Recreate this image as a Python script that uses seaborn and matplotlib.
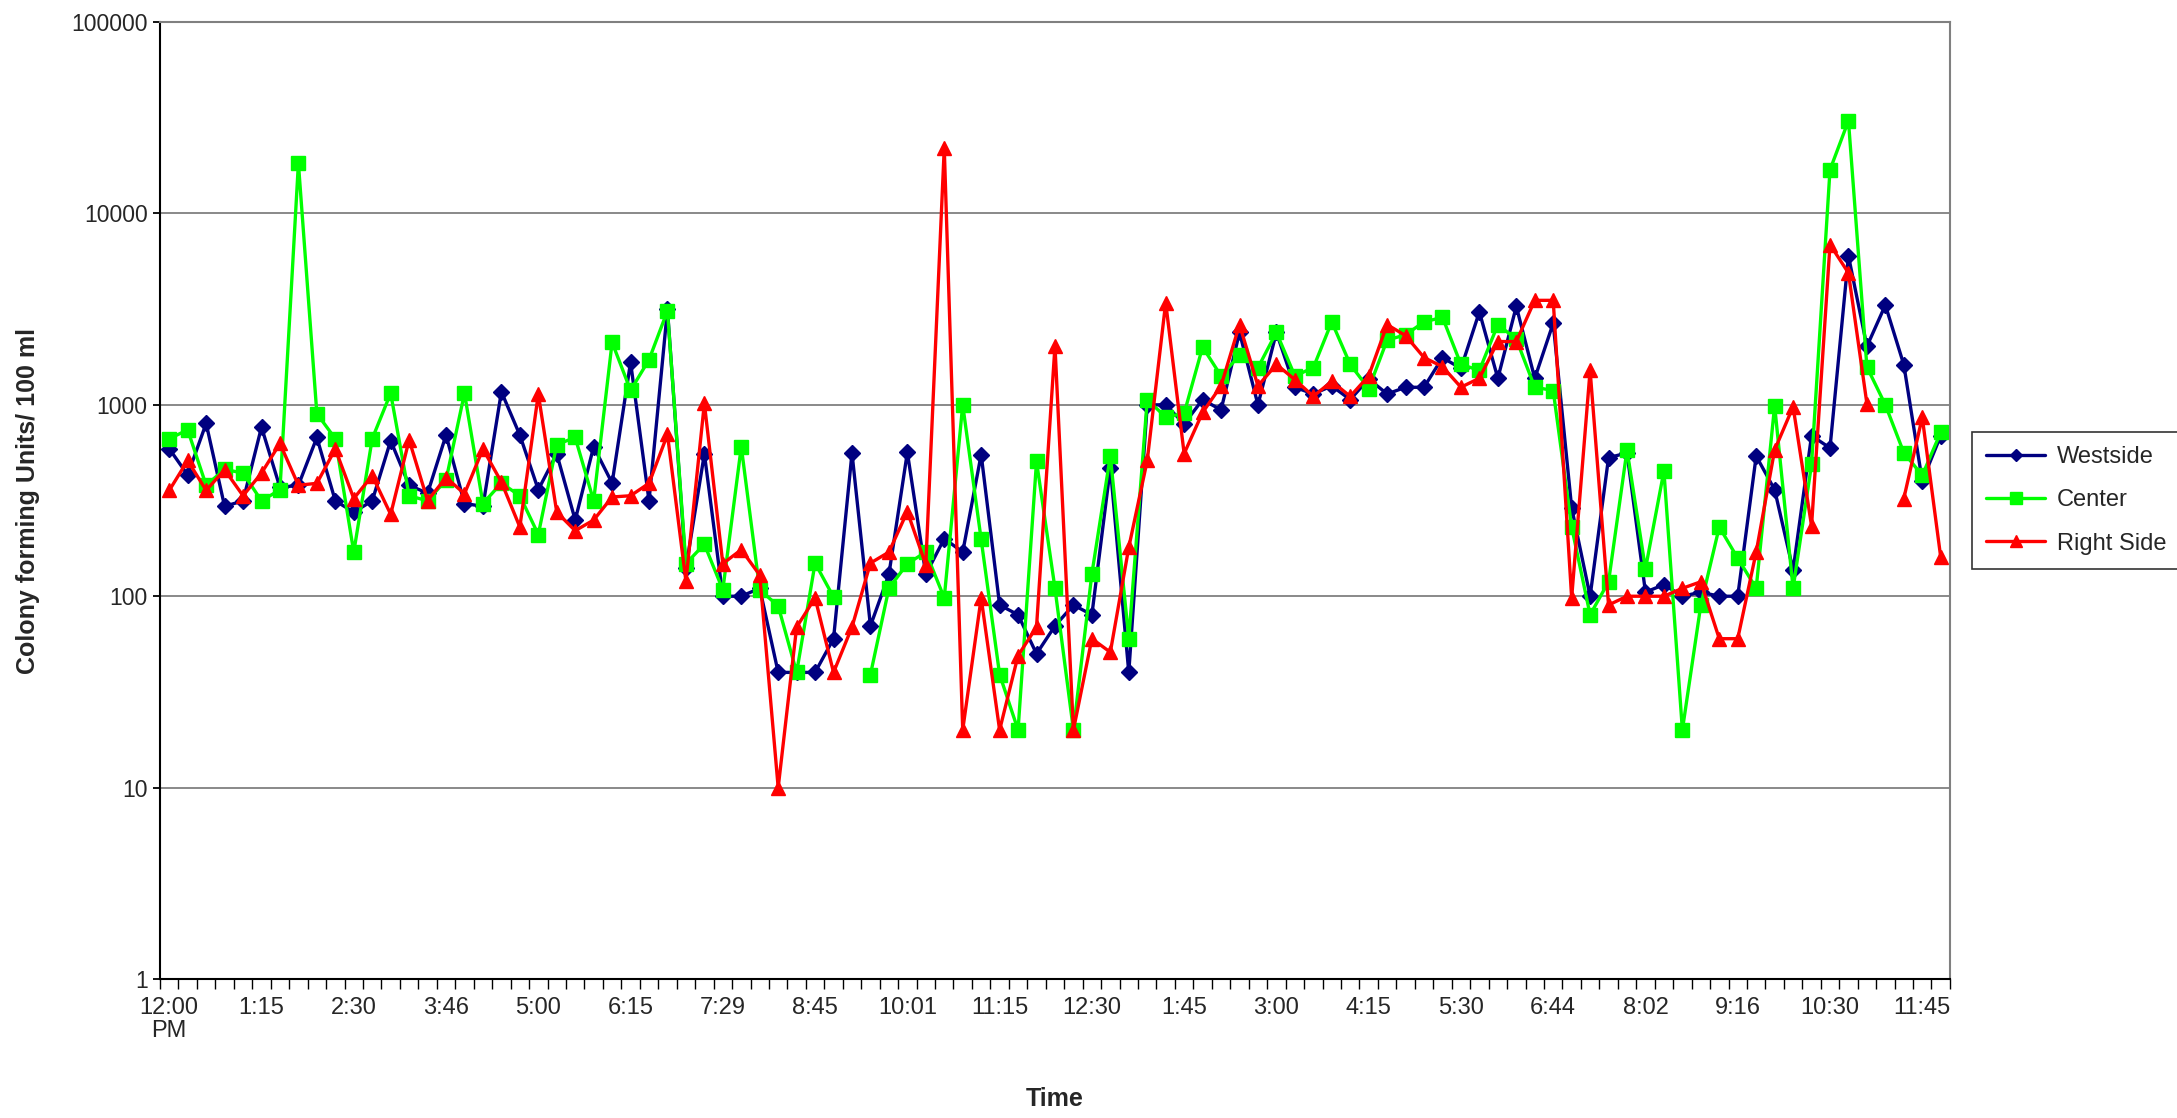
import numpy as np
import pandas as pd
import matplotlib
matplotlib.use("Agg")
import matplotlib.pyplot as plt
from matplotlib.lines import Line2D
from matplotlib.ticker import FixedLocator, NullLocator
import seaborn as sns

nan = np.nan

tick_labels = ["12:00\nPM", "1:15", "2:30", "3:46", "5:00", "6:15", "7:29", "8:45",
               "10:01", "11:15", "12:30", "1:45", "3:00", "4:15", "5:30", "6:44",
               "8:02", "9:16", "10:30", "11:45"]

westside = [590, 430, 800, 295, 315, 765, 370, 380, 675, 315,
            275, 315, 650, 380, 345, 695, 305, 295, 1170, 695,
            360, 555, 250, 605, 390, 1670, 315, 3150, 140, 555,
            100, 100, 110, 40, 40, 40, 60, 560, 70, 130,
            565, 130, 200, 170, 550, 90, 80, 50, 70, 90,
            80, 470, 40, 1000, 1000, 795, 1065, 940, 2390, 1000,
            2390, 1235, 1140, 1255, 1065, 1365, 1140, 1235, 1235, 1765,
            1550, 3060, 1375, 3270, 1375, 2670, 290, 100, 530, 560,
            105, 115, 100, 105, 100, 100, 540, 360, 137, 690,
            595, 6000, 2020, 3320, 1620, 400, 690]

center = [665, 740, 380, 460, 440, 315, 360, 18300, 900, 665,
          170, 665, 1150, 335, 315, 405, 1150, 305, 390, 335,
          210, 620, 675, 315, 2120, 1190, 1720, 3100, 148, 187,
          108, 605, 108, 89, 40, 149, 99, nan, 39, 110,
          148, 170, 98, 1000, 198, 39, 20, 506, 110, 20,
          131, 541, 60, 1064, 863, 902, 2004, 1416, 1815, 1564,
          2390, 1416, 1564, 2712, 1626, 1214, 2178, 2323, 2712, 2865,
          1626, 1514, 2624, 2203, 1236, 1188, 230, 80, 119, 581,
          139, 451, 20, 90, 230, 158, 110, 990, 110, 488,
          16900, 30500, 1578, 1000, 562, 428, 718]

right_side = [357, 512, 357, 458, 335, 440, 628, 380, 389, 588,
              324, 427, 268, 656, 316, 417, 343, 588, 395, 230,
              1137, 275, 220, 250, 330, 335, 389, 700, 120, 1019,
              148, 175, 129, 10, 69, 98, 40, 69, 149, 170,
              277, 146, 22000, 20, 98, 20, 49, 69, 2030, 20,
              60, 51, 180, 512, 3420, 556, 912, 1256, 2624, 1256,
              1626, 1355, 1107, 1327, 1107, 1416, 2624, 2300, 1766, 1583,
              1236, 1377, 2141, 2141, 3515, 3515, 98, 1514, 90, 100,
              100, 100, 110, 119, 60, 60, 170, 581, 977, 233,
              6880, 4886, 1014, nan, 324, 861, 160]

series_names = ["Westside", "Center", "Right Side"]
series_vals = [westside, center, right_side]
colors = ["#000080", "#00FF00", "#FF0000"]
markers = ["D", "s", "^"]
msizes = [8, 10, 10.5]

frames = []
for name, vals in zip(series_names, series_vals):
    v = np.asarray(vals, dtype=float)
    seg = np.cumsum(np.isnan(v))
    frames.append(pd.DataFrame({"series": name, "idx": np.arange(len(v)),
                                "value": v, "seg": seg}))
df = pd.concat(frames, ignore_index=True)
n = len(westside)

sns.set_style("white")
plt.rcParams["font.family"] = ["Liberation Sans", "DejaVu Sans"]

fig = plt.figure(figsize=(21.77, 11.18), dpi=100)
ax = fig.add_axes([0.0735, 0.1243, 0.8222, 0.8560])

for name, col, mk, ms in zip(series_names, colors, markers, msizes):
    sub = df[df["series"] == name].dropna(subset=["value"])
    sns.lineplot(data=sub, x="idx", y="value", units="seg", estimator=None,
                 color=col, marker=mk, markersize=ms, markeredgecolor=col,
                 markeredgewidth=1, linewidth=2.4, ax=ax, legend=False,
                 sort=True)

ax.set_yscale("log")
ax.set_ylim(1, 100000)
ax.set_xlim(-0.5, n - 0.5)

yt = [1, 10, 100, 1000, 10000, 100000]
ax.yaxis.set_major_locator(FixedLocator(yt))
ax.yaxis.set_minor_locator(NullLocator())
ax.set_yticklabels([str(v) for v in yt], fontsize=16.5)
ax.tick_params(axis="y", which="major", direction="out", length=5, width=1.3,
               color="black", pad=4, left=True)

ax.set_xticks(np.arange(-0.5, n, 1.0))
ax.set_xticklabels([])
ax.tick_params(axis="x", which="major", direction="out", length=7, width=1.0,
               color="black", bottom=True)
ax.set_xticks(np.arange(0, 5 * len(tick_labels), 5), minor=True)
ax.set_xticklabels(tick_labels, minor=True, fontsize=17)
for t in ax.get_xticklabels(minor=True):
    t.set_linespacing(1.05)
ax.tick_params(axis="x", which="minor", length=0, pad=13)

ax.yaxis.grid(True, which="major", color="#808080", linewidth=1.3)
ax.xaxis.grid(False)
ax.set_axisbelow(True)

for s in ["left", "bottom"]:
    ax.spines[s].set_color("black")
    ax.spines[s].set_linewidth(1.5)
for s in ["right", "top"]:
    ax.spines[s].set_color("#808080")
    ax.spines[s].set_linewidth(1.5)

ax.set_xlabel("Time", fontsize=18, fontweight="bold")
ax.xaxis.set_label_coords(0.5, -0.113)
ax.set_ylabel("Colony forming Units/ 100 ml", fontsize=18, fontweight="bold")
ax.yaxis.set_label_coords(-0.067, 0.5)

handles = [Line2D([], [], color=c, marker=m, markersize=ms * 0.8,
                  markeredgecolor=c, linewidth=2.4)
           for c, m, ms in zip(colors, markers, msizes)]
leg = fig.legend(handles, series_names, loc="upper left",
                 bbox_to_anchor=(1972 / 2177, 1 - 432 / 1118),
                 fontsize=17, frameon=True, fancybox=False, shadow=False,
                 handlelength=2.5, labelspacing=0.9, borderpad=0.6,
                 handletextpad=0.5, borderaxespad=0.0)
leg.get_frame().set_edgecolor("black")
leg.get_frame().set_linewidth(1.2)

fig.savefig("out.png", dpi=100, facecolor="white")
